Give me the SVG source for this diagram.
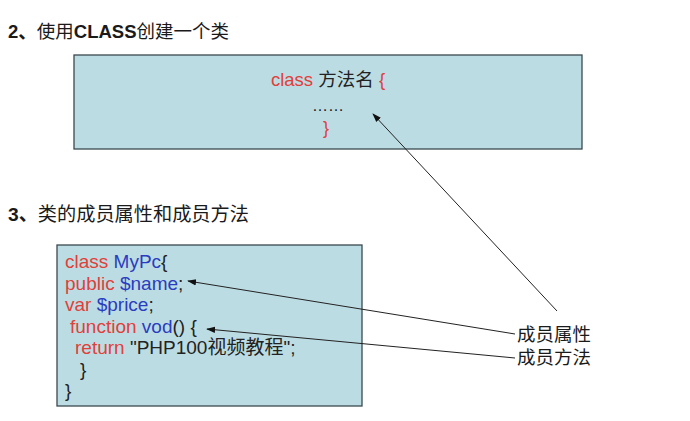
<svg xmlns="http://www.w3.org/2000/svg" width="690" height="421" viewBox="0 0 690 421">
<style>
.t{font-family:"Liberation Sans","Noto Sans CJK SC",sans-serif;font-size:18.5px;fill:#1a1a1a}
.b{font-weight:bold}
.code{font-family:"Liberation Sans","Noto Sans CJK SC",sans-serif;font-size:19px;fill:#222}
.r{fill:#e0403a}
.bl{fill:#2a3cc0}
.k{fill:#222}
.box{fill:#bcdce3;stroke:#3a4a50;stroke-width:1.3}
.conn{stroke:#222;stroke-width:1;fill:none;marker-end:url(#ah)}
</style>
<defs>
<marker id="ah" viewBox="0 0 10 10" refX="9" refY="5" markerWidth="9" markerHeight="9" markerUnits="userSpaceOnUse" orient="auto">
<path d="M0,1.5 L10,5 L0,8.5 z" fill="#111"/>
</marker>
</defs>
<rect width="690" height="421" fill="#fff"/>
<g id="title1"><text class="t" x="8" y="38"><tspan class="b">2、</tspan>使用<tspan class="b">CLASS</tspan>创建一个类</text></g>
<g id="box1">
<rect class="box" x="74" y="55" width="508" height="94"/>
<text class="code" x="328" y="86" text-anchor="middle" style="font-size:18.5px"><tspan class="r">class</tspan> 方法名 <tspan class="r">{</tspan></text>
<text class="code" x="328" y="111" text-anchor="middle" style="font-size:16px">……</text>
<text class="code r" x="326" y="134" text-anchor="middle" style="font-size:18px">}</text>
</g>
<g id="title2"><text class="t" x="8" y="221" style="font-size:19.2px"><tspan class="b">3、</tspan>类的成员属性和成员方法</text></g>
<g id="box2">
<rect class="box" x="57" y="245" width="305" height="161"/>
<text class="code" x="65" y="268"><tspan class="r">class</tspan> <tspan class="bl">MyPc</tspan><tspan class="k">{</tspan></text>
<text class="code" x="65" y="289.5"><tspan class="r">public</tspan> <tspan class="bl">$name</tspan><tspan class="k">;</tspan></text>
<text class="code" x="65" y="311"><tspan class="r">var</tspan> <tspan class="bl">$price</tspan><tspan class="k">;</tspan></text>
<text class="code" x="70" y="332.5"><tspan class="r">function</tspan> <tspan class="bl">vod</tspan><tspan class="k">() {</tspan></text>
<text class="code" x="75" y="354"><tspan class="r">return</tspan> <tspan class="k">"PHP100视频教程";</tspan></text>
<text class="code k" x="80" y="375.5">}</text>
<text class="code k" x="65" y="397">}</text>
</g>
<g id="labels">
<text class="t" x="517" y="341">成员属性</text>
<text class="t" x="517" y="364">成员方法</text>
</g>
<g id="connectors">
<line class="conn" x1="557" y1="311" x2="373" y2="114"/>
<line class="conn" x1="515" y1="334" x2="188" y2="281"/>
<line class="conn" x1="515" y1="358" x2="207" y2="329"/>
</g>
</svg>
